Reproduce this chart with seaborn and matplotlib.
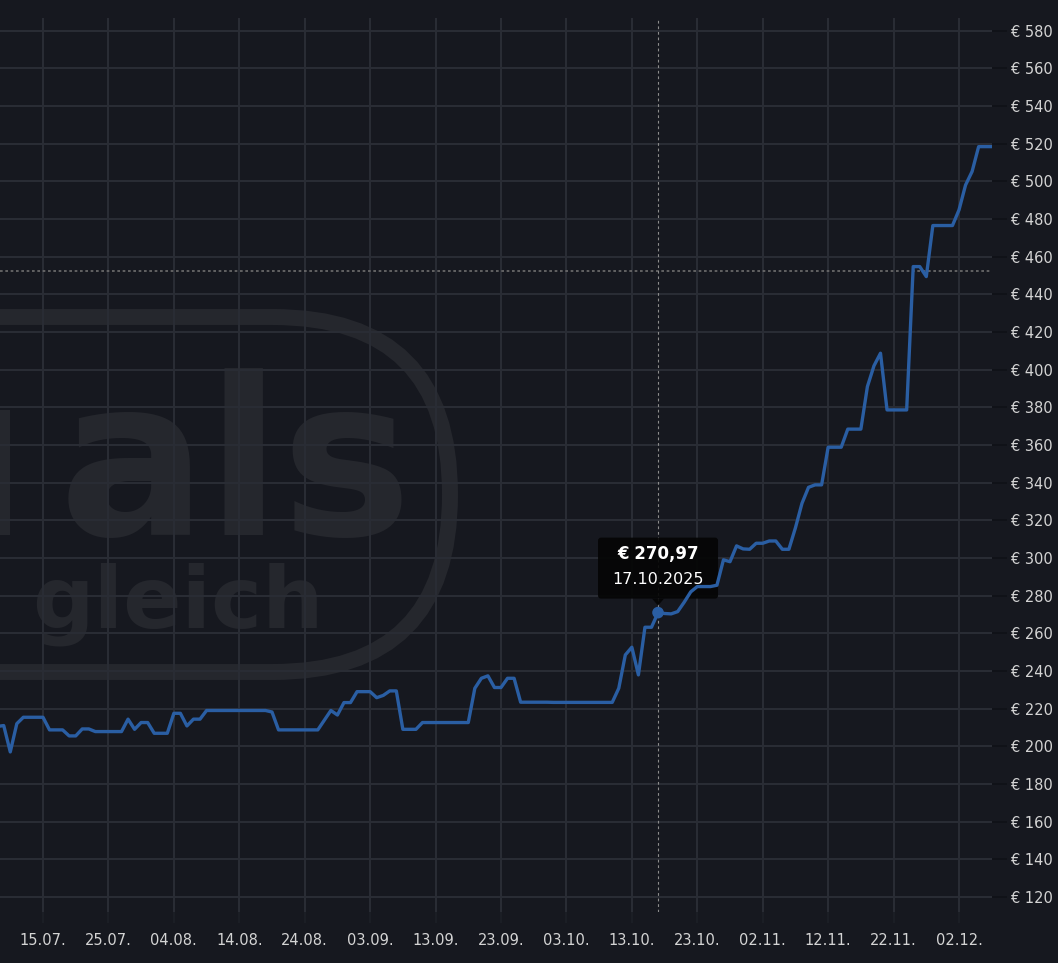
import numpy as np
import pandas as pd
import matplotlib
matplotlib.use("Agg")
import matplotlib.pyplot as plt
import matplotlib.dates as mdates
import matplotlib.patches as mpatches
from matplotlib.transforms import Affine2D
import seaborn as sns

# ---------------- data ----------------
start_date = "2025-07-08"
prices = [
    # Jul 8 - Jul 31
    210.5, 211.0, 197.0, 212.0, 215.4, 215.4, 215.4, 215.4, 208.7, 208.7,
    208.7, 205.5, 205.5, 209.2, 209.2, 207.8, 207.8, 207.8, 207.8, 207.8,
    214.4, 209.0, 212.6, 212.6,
    # Aug
    206.9, 206.9, 206.9, 217.5, 217.5, 210.8, 214.4, 214.4,
    219.0, 219.0, 219.0, 219.0, 219.0, 219.0, 219.0, 219.0, 219.0, 219.0,
    218.2, 208.7, 208.7, 208.7, 208.7, 208.7, 208.7, 208.7,
    213.8, 219.0, 216.6, 223.2, 223.2,
    # Sep
    229.0, 229.0, 229.0, 225.8, 227.0, 229.4, 229.4, 209.0, 209.0, 209.0,
    212.6, 212.6, 212.6, 212.6, 212.6, 212.6, 212.6, 212.6,
    230.8, 236.1, 237.4, 231.2, 231.2, 236.1, 236.1,
    223.4, 223.4, 223.4, 223.4, 223.4,
    # Oct
    223.3, 223.3, 223.3, 223.3, 223.3, 223.3, 223.3, 223.3, 223.3, 223.3,
    230.8, 248.5, 252.6, 237.9, 263.2, 263.2, 270.97, 270.5, 270.3, 271.5,
    276.5, 282.0, 284.8, 284.8, 284.8, 285.5, 299.0, 298.0, 306.4, 304.8,
    304.6,
    # Nov
    307.8, 307.8, 309.0, 309.0, 304.6, 304.6, 316.0, 329.0, 337.5, 338.8,
    338.8, 358.8, 358.8, 358.8, 368.4, 368.4, 368.4, 391.0, 402.0, 408.7,
    378.6, 378.6, 378.6, 378.6, 454.7, 454.7, 449.4, 476.5, 476.5, 476.5,
    # Dec
    476.5, 484.8, 498.0, 505.2, 518.4, 518.4, 518.4,
]
tick_dates = ["2025-07-15", "2025-07-25", "2025-08-04", "2025-08-14", "2025-08-24",
              "2025-09-03", "2025-09-13", "2025-09-23", "2025-10-03", "2025-10-13",
              "2025-10-23", "2025-11-02", "2025-11-12", "2025-11-22", "2025-12-02"]
y_ticks = [120, 140, 160, 180, 200, 220, 240, 260, 280, 300, 320, 340, 360, 380,
           400, 420, 440, 460, 480, 500, 520, 540, 560, 580]
marker_date = "2025-10-17"
marker_price = 270.97
marker_label = "€ 270,97"
marker_date_label = "17.10.2025"
reference_price = 452.6
x_range = ["2025-07-08 10:20", "2025-12-07 01:00"]
y_range = [112.0, 586.7]
watermark_top = "als"
watermark_bottom = "gleich"

df = pd.DataFrame({
    "date": pd.date_range(start_date, periods=len(prices), freq="D"),
    "price": prices,
})

# ---------------- style ----------------
BG = "#16181f"
GRID = "#2a2d35"
BLUE = "#2a5ea3"
WM = "#25272d"
TXT = "#d4d4d4"

W, H, DPI = 1058, 963, 100
sns.set_theme(style="dark", rc={
    "axes.facecolor": BG, "figure.facecolor": BG, "savefig.facecolor": BG,
    "axes.edgecolor": BG,
})
plt.rcParams["font.family"] = ["DejaVu Sans"]

fig = plt.figure(figsize=(W / DPI, H / DPI), dpi=DPI)
ax = fig.add_axes([0, 1 - 912 / H, 992 / W, (912 - 18) / H])
pix = Affine2D().scale(1 / W, -1 / H).translate(0, 1) + fig.transFigure

# watermark logo (partly outside the view, as in the reference)
ax.text(413, 535, watermark_top, transform=pix, ha="right", va="baseline",
        fontsize=158, fontweight="bold", color=WM, zorder=0.2)
ax.add_patch(mpatches.Rectangle((0, 410), 10, 125, transform=pix,
                                facecolor=WM, edgecolor="none", zorder=0.2))
ax.text(324, 627, watermark_bottom, transform=pix, ha="right", va="baseline",
        fontsize=62, fontweight="bold", color=WM, zorder=0.2)
stadium = mpatches.FancyBboxPatch((-600, 317), 1050, 355,
                                  boxstyle="round,pad=0,rounding_size=177",
                                  transform=pix, facecolor="none", edgecolor=WM,
                                  linewidth=11.5, zorder=0.2)
ax.add_patch(stadium)

# line
sns.lineplot(data=df, x="date", y="price", ax=ax, color=BLUE, linewidth=2.4,
             zorder=2)

ax.set_xlim(pd.to_datetime(x_range[0]), pd.to_datetime(x_range[1]))
ax.set_ylim(*y_range)

# grid
ax.set_axisbelow(True)
ax.grid(True, color=GRID, linewidth=1.4)
for s in ax.spines.values():
    s.set_visible(False)

# ticks
ax.set_xticks(pd.to_datetime(tick_dates))
ax.xaxis.set_major_formatter(mdates.DateFormatter("%d.%m."))
ax.set_yticks(y_ticks)
ax.set_yticklabels([f"€ {v}" for v in y_ticks])
ax.yaxis.tick_right()
ax.tick_params(axis="y", right=True, left=False, labelright=True, labelleft=False,
               length=11, width=1.4, color="#101218", pad=3,
               labelsize=10.5, labelcolor=TXT)
ax.tick_params(axis="x", bottom=True, length=8, width=1.4, color="#1c1f26", pad=7,
               labelsize=10.5, labelcolor=TXT)
ax.set_xlabel("")
ax.set_ylabel("")

# reference lines
ax.axhline(reference_price, color="#6e6e6e", linewidth=1.2,
           linestyle=(0, (1.6, 1.6)), zorder=1)
mdate = pd.to_datetime(marker_date)
ax.axvline(mdate, color="#8c8c8c", linewidth=0.8, linestyle=(0, (2.5, 2.5)),
           zorder=1)

# marker point
ax.scatter([mdate], [marker_price], s=70, color=BLUE, zorder=3, edgecolors="none")

# tooltip
fig.canvas.draw()
px, py = ax.transData.transform((mdates.date2num(mdate), marker_price))
box = mpatches.FancyBboxPatch((px - 60, py + 14), 120, 61,
                              boxstyle="round,pad=0,rounding_size=3",
                              transform=None, facecolor="#050505",
                              edgecolor="none", alpha=0.92, zorder=1.6)
ax.add_patch(box)
tri = mpatches.Polygon([(px - 6, py + 14), (px + 6, py + 14), (px, py + 7)],
                       closed=True, transform=None, facecolor="#050505",
                       edgecolor="none", alpha=0.92, zorder=1.6)
ax.add_patch(tri)
ax.annotate(marker_label, xy=(mdate, marker_price), xytext=(0, 42.5),
            textcoords="offset points", ha="center", va="center",
            fontsize=12, fontweight="bold", color="white", zorder=5)
ax.annotate(marker_date_label, xy=(mdate, marker_price), xytext=(0, 23.8),
            textcoords="offset points", ha="center", va="center",
            fontsize=11.5, color="white", zorder=5)

fig.savefig("out.png", dpi=DPI, facecolor=BG)
